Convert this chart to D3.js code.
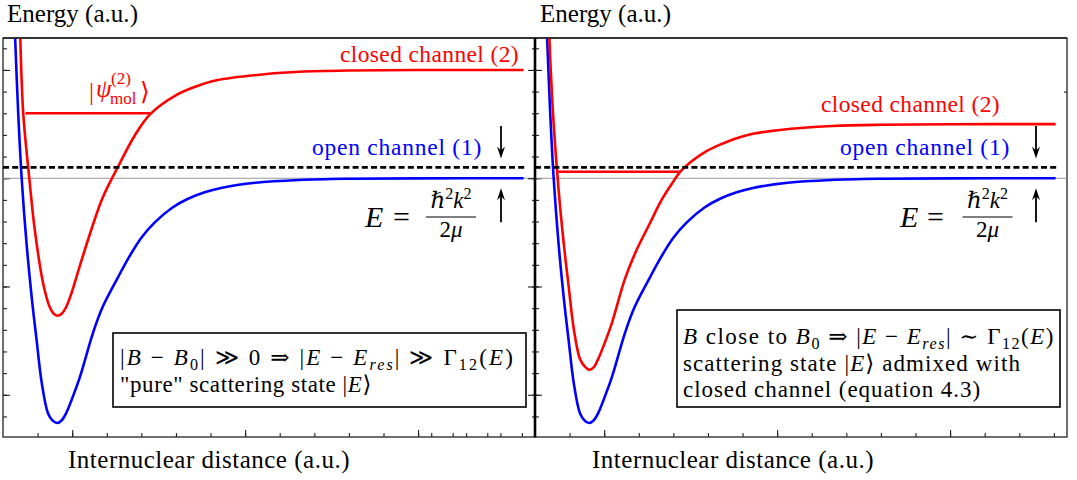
<!DOCTYPE html>
<html><head><meta charset="utf-8">
<script src="https://cdn.jsdelivr.net/npm/d3@7"></script>
<style>
body{margin:0;background:#fff}
text{font-family:"Liberation Serif","DejaVu Serif",serif;white-space:pre}
</style></head><body>
<svg id="chart" width="1077" height="480"></svg>
<script>
// Open channel (1) potential, identical in both panels: internuclear distance r (tick units), energy E (a.u.)
const openR = [0.35, 0.44, 0.54, 0.68, 0.83, 0.97, 1.12, 1.3, 1.44, 1.57, 1.7, 1.84, 1.98, 2.22, 2.6, 2.88, 3.3, 3.66, 4.0, 4.38, 4.9, 5.35, 5.83, 6.3, 7.3, 8.56, 10, 12, 15.05];
const openE = [1.3, 0.6, 0.0, -0.6, -1.1, -1.49, -1.89, -2.17, -2.24, -2.26, -2.235, -2.16, -2.05, -1.84, -1.43, -1.19, -0.93, -0.72, -0.55, -0.41, -0.27, -0.19, -0.13, -0.09, -0.042, -0.016, -0.005, -0.001, 0];

// Closed channel (2), field far from resonance (left panel)
const closedFarR = [0.5, 0.585, 0.76, 0.92, 1.16, 1.35, 1.45, 1.57, 1.7, 1.84, 1.98, 2.23, 2.6, 2.88, 3.38, 3.8, 4.25, 5.02, 5.6, 6.18, 7.62, 8.58, 10, 12, 15.05];
const closedFarE = [1.3, 0.6, 0.0, -0.48, -0.97, -1.19, -1.245, -1.27, -1.25, -1.18, -1.06, -0.8, -0.43, -0.18, 0.14, 0.39, 0.59, 0.77, 0.85, 0.905, 0.963, 0.984, 0.995, 0.999, 1.0];

// Closed channel (2), field close to resonance (right panel)
const closedNearR = [0.415, 0.44, 0.54, 0.68, 0.83, 0.97, 1.12, 1.3, 1.44, 1.57, 1.7, 1.84, 1.98, 2.22, 2.6, 2.94, 3.3, 3.66, 4.0, 4.2, 4.5, 4.96, 5.35, 5.83, 6.3, 7.08, 8.6, 10, 12, 15.05];
const closedNearE = [1.3, 1.1, 0.5, -0.1, -0.6, -0.99, -1.39, -1.67, -1.74, -1.77, -1.745, -1.66, -1.55, -1.34, -0.93, -0.66, -0.43, -0.2, -0.03, 0.06, 0.15, 0.25, 0.31, 0.37, 0.41, 0.446, 0.482, 0.494, 0.499, 0.5];

// Molecular bound level |psi_mol^(2)> in each panel: energy and the turning points
const boundE = [0.6, 0.06];
const boundFrom = [0.65, 0.67];
const boundTo = [4.25, 4.2];

// Threshold of the open channel and energy of the incoming scattering state
const thresholdE = 0;
const scatteringE = 0.1;

// Tick values
const energyMinorTicks = [-2.2, -2.0, -1.8, -1.6, -1.4, -1.2, -1.0, -0.8, -0.6, -0.4, -0.2, 0, 0.2, 0.4, 0.6, 0.8, 1.0, 1.2];
const energyMajorTicks = [-2, -1, 0, 1];
const distMinorTicks = [1, 2, 3, 4, 5, 6, 7, 8, 9, 10, 11, 12, 13, 14, 15];
const distMajorTicks = [2, 7, 12];
const distExtraTicks = [12.38, 13.39, 14.38];

const svg = d3.select("#chart");
const plotTop = 38, plotBottom = 437;
const y = d3.scaleLinear().domain([-2.39, 1.295]).range([plotBottom, plotTop]);
const panels = [
  {x0: 3, x1: 535, closedR: closedFarR, closedE: closedFarE, b: 0,
   closedLbl: [519, 62], openLbl: [482, 155], arrowX: 501, eqX: 365, eqEq: 393, fracC: 451,
   axisLabelX: 7, distLabelX: 68},
  {x0: 535, x1: 1067, closedR: closedNearR, closedE: closedNearE, b: 1,
   closedLbl: [1000, 112], openLbl: [1010, 155], arrowX: 1036, eqX: 900, eqEq: 927, fracC: 987.5,
   axisLabelX: 540, distLabelX: 592}
];

function fit(t, width) {
  const n = t.text().length;
  const w = t.node().getComputedTextLength();
  t.attr("letter-spacing", ((width - w) / n).toFixed(3));
}

// math-style text line built from [text, kind] parts
function mathLine(g, x, yb, parts, size, color) {
  const t = g.append("text").attr("x", x).attr("y", yb).attr("font-size", size).attr("fill", color || "#000");
  let cur = 0;
  parts.forEach(([s, k]) => {
    let off = 0, fs = size, it = false;
    if (k === "i") it = true;
    if (k === "sub") { off = 0.2 * size; fs = 0.7 * size; }
    if (k === "subi") { off = 0.2 * size; fs = 0.7 * size; it = true; }
    if (k === "sup") { off = -0.38 * size; fs = 0.7 * size; }
    t.append("tspan").attr("dy", off - cur).attr("font-size", fs)
      .attr("font-style", it ? "italic" : "normal").text(s);
    cur = off;
  });
  return t;
}

panels.forEach((p, i) => {
  const g = svg.append("g");
  const x = d3.scaleLinear().domain([0, 15.38]).range([p.x0, p.x1]);
  const clipId = "clip" + i;
  svg.append("clipPath").attr("id", clipId).append("rect")
    .attr("x", p.x0).attr("y", plotTop).attr("width", p.x1 - p.x0).attr("height", plotBottom - plotTop);

  // ticks
  const tk = (axis, vals, size, tx, ty) => {
    const a = g.append("g").attr("transform", `translate(${tx},${ty})`)
      .call(axis.tickValues(vals).tickSize(size).tickFormat(""));
    a.select(".domain").remove();
    a.selectAll("line").attr("stroke", "#222").attr("stroke-width", 1.1);
  };
  tk(d3.axisRight(y), energyMinorTicks, 4, p.x0, 0);
  tk(d3.axisRight(y), energyMajorTicks, 7, p.x0, 0);
  if (i === 1) {
    tk(d3.axisLeft(y), energyMinorTicks, 3, p.x0, 0);
    tk(d3.axisLeft(y), energyMajorTicks, 7, p.x0, 0);
    tk(d3.axisLeft(y), [0.8], 3, p.x1, 0);
  }
  tk(d3.axisTop(x), distMinorTicks, 4, 0, plotBottom);
  tk(d3.axisTop(x), distMajorTicks, 7, 0, plotBottom);
  if (i === 0) tk(d3.axisTop(x), distExtraTicks, 4, 0, plotBottom);

  // frame
  g.append("rect").attr("x", p.x0).attr("y", plotTop).attr("width", p.x1 - p.x0).attr("height", plotBottom - plotTop)
    .attr("fill", "none").attr("stroke", "#222").attr("stroke-width", 1.3);

  const pl = g.append("g").attr("clip-path", `url(#${clipId})`);
  // open-channel threshold
  pl.append("line").attr("x1", x(0)).attr("x2", x(15.38)).attr("y1", y(thresholdE)).attr("y2", y(thresholdE))
    .attr("stroke", "#999").attr("stroke-width", 1.1);

  const line = d3.line().x(d => x(d[0])).y(d => y(d[1])).curve(d3.curveCatmullRom.alpha(0.5));
  pl.append("path").attr("d", line(openR.map((r, k) => [r, openE[k]])))
    .attr("fill", "none").attr("stroke", "#0000ff").attr("stroke-width", 2.6);
  pl.append("path").attr("d", line(p.closedR.map((r, k) => [r, p.closedE[k]])))
    .attr("fill", "none").attr("stroke", "#ff0000").attr("stroke-width", 2.6);
  // bound molecular level
  pl.append("line").attr("x1", x(boundFrom[p.b])).attr("x2", x(boundTo[p.b]))
    .attr("y1", y(boundE[p.b])).attr("y2", y(boundE[p.b]))
    .attr("stroke", "#ff0000").attr("stroke-width", 2.6);
  // scattering energy
  pl.append("line").attr("x1", x(0)).attr("x2", x(15.1)).attr("y1", y(scatteringE)).attr("y2", y(scatteringE))
    .attr("stroke", "#000").attr("stroke-width", 2.6).attr("stroke-dasharray", "6,3.2");

  // channel labels
  const cl = g.append("text").attr("x", p.closedLbl[0]).attr("y", p.closedLbl[1]).attr("text-anchor", "end")
    .attr("font-size", 23.5).attr("fill", "#ff0000").text("closed channel (2)");
  fit(cl, 179);
  const ol = g.append("text").attr("x", p.openLbl[0]).attr("y", p.openLbl[1]).attr("text-anchor", "end")
    .attr("font-size", 23.5).attr("fill", "#0000ff").text("open channel (1)");
  fit(ol, 170);

  // arrows marking E relative to the threshold
  const arrow = (x0, yFrom, yTip) => {
    const dir = yTip > yFrom ? 1 : -1;
    g.append("line").attr("x1", x0).attr("x2", x0).attr("y1", yFrom).attr("y2", yTip - dir * 6)
      .attr("stroke", "#000").attr("stroke-width", 1.8);
    g.append("path").attr("d", `M${x0},${yTip} L${x0 - 4},${yTip - dir * 12} L${x0},${yTip - dir * 8} L${x0 + 4},${yTip - dir * 12} Z`)
      .attr("fill", "#000");
  };
  arrow(p.arrowX, y(1.0) + 56, y(scatteringE) - 9);
  arrow(p.arrowX, y(thresholdE) + 44, y(thresholdE) + 10);

  // E = hbar^2 k^2 / 2mu
  g.append("text").attr("x", p.eqX).attr("y", 227).attr("font-size", 30).attr("font-style", "italic").text("E");
  g.append("text").attr("x", p.eqEq).attr("y", 227).attr("font-size", 30).text("=");
  const num = mathLine(g, p.fracC, 208, [["ℏ", "i"], ["2", "sup"], ["k", "i"], ["2", "sup"]], 23);
  num.attr("text-anchor", "middle");
  g.append("line").attr("x1", p.fracC - 25).attr("x2", p.fracC + 25).attr("y1", 217).attr("y2", 217)
    .attr("stroke", "#000").attr("stroke-width", 1.2);
  const den = mathLine(g, p.fracC, 237, [["2", "r"], ["μ", "i"]], 23);
  den.attr("text-anchor", "middle");

  // axis titles
  const el = g.append("text").attr("x", p.axisLabelX).attr("y", 22).attr("font-size", 25).text("Energy (a.u.)");
  fit(el, 131);
  const dl = g.append("text").attr("x", p.distLabelX).attr("y", 468).attr("font-size", 25).text("Internuclear distance (a.u.)");
  fit(dl, 282);
});

// label of the molecular state in the closed channel
const psi = svg.append("g").attr("fill", "#ff0000");
psi.append("text").attr("x", 89).attr("y", 100).attr("font-size", 25).text("|");
psi.append("text").attr("x", 96).attr("y", 97).attr("font-size", 25).attr("font-style", "italic").text("ψ");
psi.append("text").attr("x", 111).attr("y", 84).attr("font-size", 17).text("(2)");
psi.append("text").attr("x", 110).attr("y", 104).attr("font-size", 17).text("mol");
psi.append("text").attr("x", 140).attr("y", 100).attr("font-size", 25).text("⟩");

// annotation boxes
const boxL = svg.append("g");
boxL.append("rect").attr("x", 113).attr("y", 333).attr("width", 413).attr("height", 74)
  .attr("fill", "#fff").attr("stroke", "#000").attr("stroke-width", 1.6);
const l1 = mathLine(boxL, 120, 365, [["|", "r"], ["B", "i"], [" − ", "r"], ["B", "i"], ["0", "sub"], ["| ≫ 0 ⇒ |", "r"],
  ["E", "i"], [" − ", "r"], ["E", "i"], ["res", "subi"], ["| ≫ Γ", "r"], ["12", "sub"], ["(", "r"], ["E", "i"], [")", "r"]], 23);
fit(l1, 395);
const l2 = mathLine(boxL, 120, 392, [["\"pure\" scattering state |", "r"], ["E", "i"], ["⟩", "r"]], 23);
fit(l2, 252);

const boxR = svg.append("g");
boxR.append("rect").attr("x", 677).attr("y", 310).attr("width", 383).attr("height", 97)
  .attr("fill", "#fff").attr("stroke", "#000").attr("stroke-width", 1.6);
const r1 = mathLine(boxR, 683, 344, [["B", "i"], [" close to ", "r"], ["B", "i"], ["0", "sub"], [" ⇒ |", "r"],
  ["E", "i"], [" − ", "r"], ["E", "i"], ["res", "subi"], ["| ∼ Γ", "r"], ["12", "sub"], ["(", "r"], ["E", "i"], [")", "r"]], 23);
fit(r1, 372);
const r2 = mathLine(boxR, 683, 371, [["scattering state |", "r"], ["E", "i"], ["⟩ admixed with", "r"]], 23);
fit(r2, 338);
const r3 = boxR.append("text").attr("x", 683).attr("y", 397).attr("font-size", 23).text("closed channel (equation 4.3)");
fit(r3, 298);

// shared top edge and the common spine between the panels
svg.append("line").attr("x1", 3).attr("x2", 1067).attr("y1", plotTop).attr("y2", plotTop).attr("stroke", "#222").attr("stroke-width", 1.4);
svg.append("line").attr("x1", 535).attr("x2", 535).attr("y1", plotTop).attr("y2", plotBottom).attr("stroke", "#000").attr("stroke-width", 2.6);
</script>
</body></html>
